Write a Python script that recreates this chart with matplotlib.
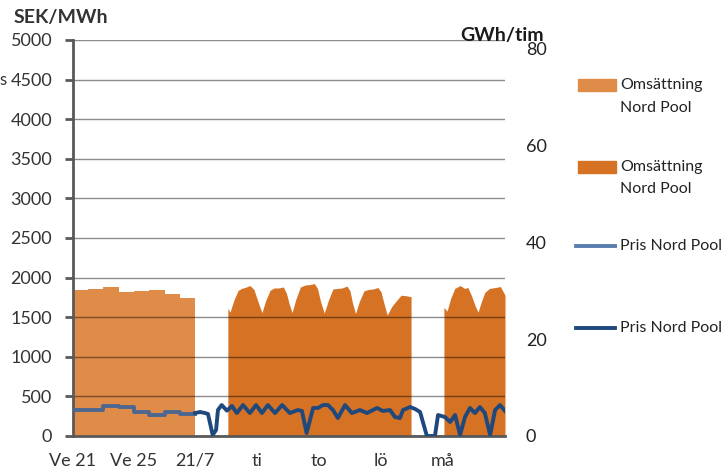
import numpy as np
import matplotlib.pyplot as plt
from matplotlib.patches import Rectangle
from matplotlib.lines import Line2D

plt.rcParams['font.family'] = ['Lato', 'DejaVu Sans']

# weekly data (weeks 21..28)
weeks = np.arange(21, 29)
week_gwh = [30.1, 30.3, 30.9, 29.7, 29.9, 30.1, 29.3, 28.6]
week_price = [328, 328, 383, 366, 307, 265, 307, 278]

# hourly part, x in days from 21/7
days_a = [1.06, 1.13, 1.25, 1.39, 1.5, 1.61, 1.77, 1.9, 2.03, 2.16,
          2.28, 2.42, 2.55, 2.7, 2.85, 2.95, 3.03, 3.13,
          3.25, 3.4, 3.55, 3.7, 3.85, 3.95, 4.05, 4.17,
          4.3, 4.45, 4.6, 4.75, 4.9, 5.0, 5.08, 5.18,
          5.3, 5.45, 5.6, 5.75, 5.9, 6.0, 6.1, 6.2,
          6.35, 6.5, 6.65, 6.8, 6.97]
gwh_a = [26.4, 25.6, 28.0, 30.1, 30.5, 30.7, 31.1, 30.3, 27.8, 25.5,
         28.0, 30.1, 30.6, 30.6, 30.8, 29.5, 27.5, 25.5,
         28.2, 30.8, 31.2, 31.3, 31.5, 30.5, 27.8, 25.4,
         28.0, 30.4, 30.5, 30.6, 31.0, 30.0, 27.5, 25.3,
         27.8, 30.0, 30.3, 30.4, 30.7, 29.8, 27.3, 25.0,
         26.8, 28.0, 29.1, 29.0, 28.8]
days_b = [8.03, 8.13, 8.25, 8.38, 8.55, 8.7, 8.8, 8.92, 9.03, 9.13,
          9.25, 9.35, 9.5, 9.7, 9.85, 10.0]
gwh_b = [26.6, 25.8, 28.5, 30.5, 31.1, 30.5, 30.7, 29.0, 27.0, 25.6,
         28.0, 29.7, 30.5, 30.7, 30.9, 29.1]

price_days = [0.0, 0.16, 0.32, 0.42, 0.57, 0.68, 0.74, 0.86, 1.03, 1.19,
              1.35, 1.55, 1.77, 1.97, 2.16, 2.35, 2.58, 2.81, 3.06, 3.32,
              3.45, 3.6, 3.81, 3.97, 4.13, 4.29, 4.45, 4.61, 4.84, 5.06,
              5.32, 5.55, 5.87, 6.06, 6.29, 6.45, 6.61, 6.71, 6.94, 7.1,
              7.26, 7.48, 7.74, 7.84, 8.06, 8.23, 8.39, 8.55, 8.71, 8.87,
              9.03, 9.19, 9.35, 9.52, 9.68, 9.84, 10.0]
price = [290, 303, 290, 278, 13, 76, 328, 391, 320, 379,
         290, 391, 290, 391, 290, 391, 290, 391, 290, 328,
         316, 38, 354, 354, 391, 391, 328, 227, 391, 290,
         328, 290, 354, 316, 328, 240, 227, 328, 366, 341,
         303, 0, 0, 265, 240, 177, 265, 13, 240, 354,
         290, 366, 290, 13, 328, 391, 316]

xlabels = ['Ve 21', 'Ve 25', '21/7', 'ti', 'to', 'lö', 'må']
xlabel_pos_week = [21, 25]
xlabel_pos_day = [0, 2, 4, 6, 8]

W, H = 727, 471
wk_w = 122 / 8 / 31  # width of one week in "day" units
x0 = -8 * wk_w
wk_edges = x0 + (np.append(weeks, 29) - 21) * wk_w

light = '#E08C49'
dark = '#D57224'
blue = '#1F497D'
slate = '#4D6790'
grey = '#595959'

fig = plt.figure(figsize=(W / 100, H / 100), dpi=100)
ax = fig.add_axes([73 / W, 35 / H, 432 / W, 396 / H])
ax2 = ax.twinx()
ax.set_zorder(ax2.get_zorder() + 1)
ax.patch.set_visible(False)

ax2.fill_between(wk_edges, np.append(week_gwh, week_gwh[-1]), step='post',
                 color=light, lw=0)
ax2.fill_between(days_a, gwh_a, color=dark, lw=0)
ax2.fill_between(days_b, gwh_b, color=dark, lw=0)

ax.plot(wk_edges, np.append(week_price, week_price[-1]), drawstyle='steps-post',
        color=slate, lw=2.8, zorder=3, solid_joinstyle='round')
ax.plot(price_days, price, color=blue, lw=2.8, zorder=3, solid_joinstyle='round')

ax.set_xlim(x0, 10.0)
ax.set_ylim(0, 5000)
ax2.set_ylim(0, 81.86)
ax.set_yticks(np.arange(0, 5001, 500))
ax2.set_yticks([0, 20, 40, 60, 80])
ax.grid(axis='y', color='black', alpha=0.45, lw=1)

xt = list(x0 + (np.array(xlabel_pos_week) - 21) * wk_w) + xlabel_pos_day
ax.set_xticks(xt)
ax.set_xticklabels(xlabels)

for s in ['top', 'right']:
    ax.spines[s].set_visible(False)
for s in ax2.spines.values():
    s.set_visible(False)
ax.spines['left'].set_color(grey)
ax.spines['left'].set_linewidth(2)
ax.spines['bottom'].set_color(grey)
ax.spines['bottom'].set_linewidth(2)

ax.tick_params(axis='y', length=6, width=2, color=grey, pad=9,
               labelsize=13, labelcolor='#333333')
ax.tick_params(axis='x', length=0, pad=12, labelsize=13, labelcolor='#333333')
ax2.tick_params(axis='y', length=0, pad=15, labelsize=13, labelcolor='#222222')

def fx(px):
    return px / W

def fy(py):
    return 1 - py / H

fig.text(fx(14), fy(18), 'SEK/MWh', fontsize=14, fontweight='bold',
         color='#333333', va='center')
fig.text(fx(502), fy(36), 'GWh/tim', fontsize=14, fontweight='bold',
         color='#1a1a1a', va='center', ha='center')
fig.text(fx(-1), fy(80), 's', fontsize=12, color='#333333', va='center')

# legend
fig.add_artist(Rectangle((fx(578), fy(91)), 38 / W, 12 / H, color=light,
                         transform=fig.transFigure))
fig.add_artist(Rectangle((fx(578), fy(173)), 38 / W, 12 / H, color=dark,
                         transform=fig.transFigure))
fig.add_artist(Line2D([fx(576), fx(615)], [fy(246), fy(246)], color='#5A7FAE',
                      lw=2.8, transform=fig.transFigure))
fig.add_artist(Line2D([fx(576), fx(615)], [fy(328), fy(328)], color=blue,
                      lw=2.8, transform=fig.transFigure))
leg_items = [('Omsättning', 85), ('Nord Pool', 108), ('Omsättning', 167),
             ('Nord Pool', 189), ('Pris Nord Pool', 246), ('Pris Nord Pool', 328)]
for txt, py in leg_items:
    fig.text(fx(620), fy(py), txt, fontsize=11.5, color='#222222', va='center')

fig.savefig('out.png', dpi=100)
